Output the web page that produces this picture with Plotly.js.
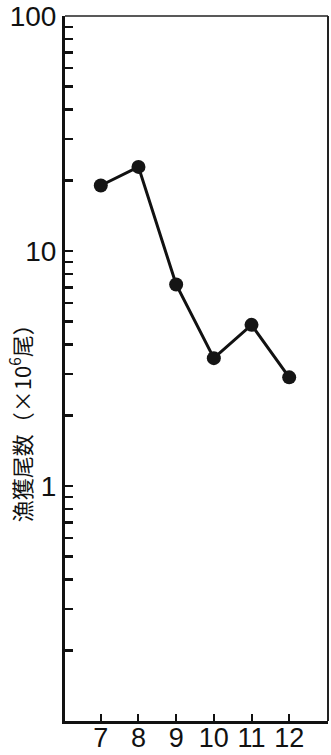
<!DOCTYPE html>
<html>
<head>
<meta charset="utf-8">
<script src="https://cdn.plot.ly/plotly-3.0.1.min.js"></script>
<style>html,body{margin:0;padding:0;background:#fff;}#chart{width:331px;height:755px;}</style>
</head>
<body>
<div id="chart"></div>
<script>
// Data
const months = [7, 8, 9, 10, 11, 12];
const catchCount = [19, 22.8, 7.2, 3.5, 4.85, 2.9];   // ×10^6 fish
const xTickLabels = ['7', '8', '9', '10', '11', '12'];
const yTickValues = [0.1,0.2,0.3,0.4,0.5,0.6,0.7,0.8,0.9,1,2,3,4,5,6,7,8,9,10,20,30,40,50,60,70,80,90,100];
const yLabelled = {1: '1', 10: '10', 100: '100'};
const yTitle = '漁獲尾数（×10<sup>6</sup>尾）';

const numFont = 'Liberation Sans Narrow, Arial Narrow, Liberation Sans, Arial, sans-serif';

const trace = {
  x: months, y: catchCount, type: 'scatter', mode: 'lines+markers',
  line: {color: '#111', width: 3},
  marker: {color: '#151515', size: 14, line: {width: 0}},
  cliponaxis: false, hoverinfo: 'skip'
};

const layout = {
  width: 331, height: 755,
  margin: {l: 65, r: 3, t: 16, b: 34},
  paper_bgcolor: '#fff', plot_bgcolor: '#fff',
  showlegend: false,
  xaxis: {
    type: 'linear', range: [6.05, 13.03],
    tickvals: months, ticktext: xTickLabels,
    ticks: 'inside', ticklen: 7, tickwidth: 2, tickcolor: '#111',
    showline: true, linewidth: 2.5, linecolor: '#111',
    showgrid: false, zeroline: false,
    ticklabelstandoff: -9,
    tickfont: {family: numFont, size: 27, color: '#111'}
  },
  yaxis: {
    type: 'log', range: [-1, 2],
    tickvals: yTickValues,
    ticktext: yTickValues.map(v => yLabelled[v] || ''),
    ticks: 'inside', ticklen: 8, tickwidth: 2.5, tickcolor: '#111',
    showline: true, linewidth: 3, linecolor: '#111',
    showgrid: false, zeroline: false,
    tickfont: {family: numFont, size: 28, color: '#111'}
  },
  shapes: [
    {type: 'line', xref: 'paper', yref: 'paper', x0: 0, x1: 1, y0: 1, y1: 1, line: {color: '#222', width: 1.5}},
    {type: 'line', xref: 'paper', yref: 'paper', x0: 1, x1: 1, y0: 0, y1: 1, line: {color: '#222', width: 2}}
  ],
  annotations: [{
    text: yTitle, xref: 'paper', yref: 'paper',
    x: -0.17, y: 0.4298, xanchor: 'center', yanchor: 'middle',
    textangle: -90, showarrow: false,
    font: {family: 'Noto Sans CJK JP, Noto Sans CJK SC, sans-serif', size: 22, color: '#111'}
  }]
};

Plotly.newPlot('chart', [trace], layout, {displayModeBar: false, staticPlot: true});
</script>
</body>
</html>
